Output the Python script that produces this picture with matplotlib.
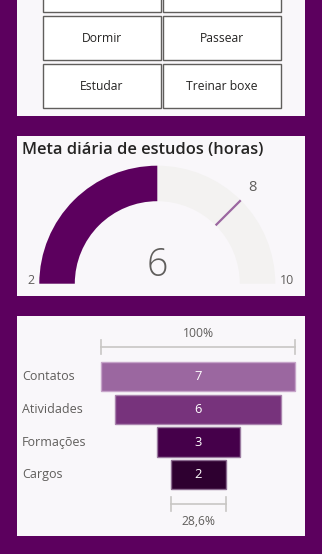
import matplotlib
matplotlib.use('Agg')
import matplotlib.pyplot as plt
from matplotlib.patches import Rectangle, Wedge
import matplotlib.transforms as mtransforms
import numpy as np

W, H = 322, 554
BG = '#5c005e'
PANEL = '#f9f7fa'
TXT = '#605e5c'

# ---- data ----
button_labels = ['', '', 'Dormir', 'Passear', 'Estudar', 'Treinar boxe']

gauge_title = 'Meta diária de estudos (horas)'
gauge_min = 2
gauge_max = 10
gauge_value = 6
gauge_target = 8

funnel_categories = ['Contatos', 'Atividades', 'Formações', 'Cargos']
funnel_values = [7, 6, 3, 2]
funnel_colors = ['#9b67a0', '#77337c', '#45004a', '#2e0030']
funnel_edges = ['#c6a4c9', '#a982ad', '#9a7a9f', '#8a6a8f']

plt.rcParams['font.family'] = ['Open Sans', 'DejaVu Sans']

fig = plt.figure(figsize=(W / 100, H / 100), dpi=100)
fig.patch.set_facecolor(BG)

base = fig.add_axes([0, 0, 1, 1])
base.set_xlim(0, W)
base.set_ylim(H, 0)
base.axis('off')

for (x0, y0, x1, y1) in [(17, -5, 305, 116), (17, 136, 305, 296), (17, 316, 305, 536)]:
    base.add_patch(Rectangle((x0, y0), x1 - x0, y1 - y0, facecolor=PANEL, edgecolor='none'))

# ---- buttons ----
col_x = [43.3, 163.3]
bw, bh, pitch = 117.3, 43.7, 48
for i, lab in enumerate(button_labels):
    r, c = divmod(i, 2)
    top = -32 + r * pitch
    base.add_patch(Rectangle((col_x[c], top), bw, bh, facecolor='white',
                             edgecolor='#605e5c', linewidth=1.0))
    if lab:
        base.text(col_x[c] + bw / 2, top + bh / 2 + 1, lab, ha='center', va='center',
                  fontsize=8.7, color='#252423')

# ---- gauge ----
ga = fig.add_axes([17 / W, (H - 296) / H, 288 / W, 160 / H])
ga.set_xlim(0, 288)
ga.set_ylim(0, 160)
ga.axis('off')
cx, cy = 140.3, 12.3
r_out, r_in = 118, 82.5


def ang(v):
    return 180 - (v - gauge_min) / (gauge_max - gauge_min) * 180


ga.add_patch(Wedge((cx, cy), r_out, 0, 180, width=r_out - r_in, facecolor='#f3f2f1', edgecolor='none'))
ga.add_patch(Wedge((cx, cy), r_out, ang(gauge_value), 180, width=r_out - r_in,
                   facecolor=BG, edgecolor='none'))
t = np.deg2rad(ang(gauge_target))
ga.plot([cx + r_in * np.cos(t), cx + r_out * np.cos(t)],
        [cy + r_in * np.sin(t), cy + r_out * np.sin(t)], color='#9b67a0', lw=1.6,
        solid_capstyle='butt')
ga.text(cx + (r_out + 12) * np.cos(t) + 3, cy + (r_out + 12) * np.sin(t) + 4, str(gauge_target),
        ha='center', va='center', fontsize=10.5, color=TXT)
ga.text(13.7, 16, str(gauge_min), ha='center', va='center', fontsize=9, color=TXT)
ga.text(270, 16, str(gauge_max), ha='center', va='center', fontsize=9, color=TXT)
ga.text(cx, 30, str(gauge_value), ha='center', va='center', fontsize=27, color=TXT,
        fontweight='light')
ga.text(5, 146, gauge_title, ha='left', va='center', fontsize=11.8, color='#252423',
        fontweight='semibold')

# ---- funnel ----
fa = fig.add_axes([17 / W, (H - 536) / H, 288 / W, 220 / H])
fa.set_xlim(-6.55, 3.86)
fa.set_ylim(4.883, -1.865)
fa.axis('off')
ys = np.arange(len(funnel_values))
vals = np.array(funnel_values, dtype=float)
fa.barh(ys, vals, left=-vals / 2, height=0.9, color=funnel_colors,
        edgecolor=funnel_edges, linewidth=1.0)
for y, v in zip(ys, funnel_values):
    fa.text(0, y, str(v), ha='center', va='center', color='white', fontsize=9.3)
trans = mtransforms.blended_transform_factory(fa.transAxes, fa.transData)
for y, lab in zip(ys, funnel_categories):
    fa.text(0.0174, y, lab, transform=trans, ha='left', va='center', fontsize=9, color=TXT)

BR = '#c8c6c4'


def bracket(v, y, ylab, label):
    fa.plot([-v / 2, v / 2], [y, y], color=BR, lw=1.2)
    for xe in (-v / 2, v / 2):
        fa.plot([xe, xe], [y - 0.215, y + 0.215], color=BR, lw=1.2)
    fa.text(0, ylab, label, ha='center', va='center', fontsize=8.7, color=TXT)


bracket(vals[0], -0.914, -1.334, '100%')
pct = vals[-1] / vals[0] * 100
bracket(vals[-1], 3.902, 4.445, f'{pct:.1f}%'.replace('.', ','))

fig.savefig('out.png', dpi=100, facecolor=BG)
